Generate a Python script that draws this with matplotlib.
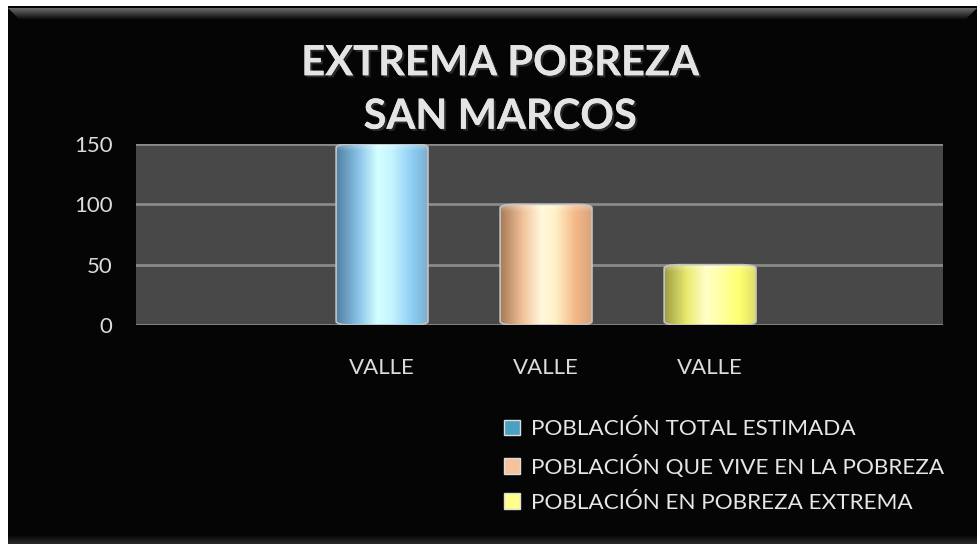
import numpy as np
import matplotlib.pyplot as plt
import matplotlib.patheffects as pe
from matplotlib.colors import LinearSegmentedColormap
from matplotlib.patches import FancyBboxPatch, Patch, Polygon

# data
categories = ["VALLE", "VALLE", "VALLE"]
series_names = ["POBLACIÓN TOTAL ESTIMADA",
                "POBLACIÓN QUE VIVE EN LA POBREZA",
                "POBLACIÓN EN POBREZA EXTREMA"]
series_values = [150, 100, 50]
yticks = [0, 50, 100, 150]

# cylinder-like shading per series
shades = [
    ["#4f7fa3", "#8cc4e8", "#d2ffff", "#c8f4ff", "#8fd0f5", "#7aaed0"],
    ["#a67a55", "#f2c39a", "#fff8dc", "#fff2c8", "#f5b888", "#d9a47c"],
    ["#9c9c45", "#eaea70", "#ffffc8", "#ffffa8", "#ffff70", "#dede68"],
]
legend_colors = ["#4aa0c0", "#f5c29c", "#ffff8a"]

plt.rcParams["font.family"] = ["Lato", "DejaVu Sans"]

W, H = 978, 544
fig = plt.figure(figsize=(W / 100, H / 100), dpi=100)
fig.patch.set_facecolor("white")

# background frame (pixel coordinates, y down)
bg = fig.add_axes([0, 0, 1, 1], zorder=-5)
bg.set_xlim(0, W)
bg.set_ylim(H, 0)
bg.axis("off")
bg.add_patch(Polygon([(8, 6), (977, 6), (977, 544), (8, 544)], closed=True,
                     facecolor="#050505", edgecolor="none", zorder=-1))
bevel = bg.imshow(np.linspace(0, 1, 32).reshape(-1, 1),
                  cmap=LinearSegmentedColormap.from_list("bev", ["#6a6a6a", "#050505"]),
                  extent=(8, 977, 20, 8), aspect="auto", zorder=1)
bevel.set_clip_path(Polygon([(8, 8), (977, 8), (965, 20), (20, 20)], closed=True,
                            transform=bg.transData))
bottom = bg.imshow(np.linspace(0, 1, 16).reshape(-1, 1),
                   cmap=LinearSegmentedColormap.from_list("bot", ["#050505", "#2a2a2a"]),
                   extent=(8, 977, 544, 535), aspect="auto", zorder=1)
bg.set_xlim(0, W)
bg.set_ylim(H, 0)

ax = fig.add_axes([136 / W, 1 - 325 / H, 807 / W, 181 / H])
ax.set_zorder(2)
ax.set_facecolor("#484848")
for s in ax.spines.values():
    s.set_visible(False)

x = np.arange(len(categories))
bars = ax.bar(x, series_values, width=0.56, color="none", edgecolor="none", zorder=3)

ax.set_yticks(yticks)
ax.set_xticks(x)
ax.set_xticklabels(categories)
ax.tick_params(axis="both", length=0, colors="#dcdcdc", labelsize=16)
ax.tick_params(axis="x", pad=24)
ax.tick_params(axis="y", pad=17)
ax.grid(axis="y", color="#8a8a8a", linewidth=2, zorder=1)
ax.set_axisbelow(True)

grad = np.linspace(0, 1, 256).reshape(1, -1)
for rect, cols in zip(bars, shades):
    x0, w, h = rect.get_x(), rect.get_width(), rect.get_height()
    cmap = LinearSegmentedColormap.from_list(
        "cyl", list(zip([0, 0.25, 0.45, 0.6, 0.82, 1.0], cols)))
    shape = FancyBboxPatch((x0, 0), w, h,
                           boxstyle="round,pad=0,rounding_size=0.1",
                           mutation_aspect=150 / 4.92 * 1.0,
                           facecolor="none", edgecolor="#c4c4c4",
                           linewidth=1.2, zorder=4)
    ax.add_patch(shape)
    im = ax.imshow(grad, cmap=cmap, extent=(x0, x0 + w, 0, h),
                   aspect="auto", zorder=3, interpolation="bicubic")
    im.set_clip_path(shape)
    # light top cap
    cap = ax.imshow(np.linspace(1, 0, 64).reshape(-1, 1),
                    cmap=LinearSegmentedColormap.from_list("cap", [(1, 1, 1, 0), (1, 1, 1, 0.35)]),
                    extent=(x0, x0 + w, h - 6, h), aspect="auto", zorder=3.5)
    cap.set_clip_path(shape)
ax.set_xlim(-1.5, 3.42)
ax.set_ylim(0, 150)

fig.text(500 / W, 1 - 90 / H, "EXTREMA POBREZA\nSAN MARCOS",
         ha="center", va="center", fontsize=30, fontweight="bold",
         family=["Lato", "DejaVu Sans"], color="#e4e4e4", linespacing=1.5,
         path_effects=[pe.withSimplePatchShadow(offset=(1.5, -1.5), shadow_rgbFace="#3a3a3a", alpha=0.7),
                       pe.Normal()])

handles = [Patch(facecolor=c, edgecolor="#dddddd", linewidth=1) for c in legend_colors]
leg = fig.legend(handles, series_names, loc="upper left",
                 bbox_to_anchor=(484 / W, 1 - 399 / H), frameon=False,
                 fontsize=16.2, labelcolor="#e6e6e6", handlelength=0.7,
                 handleheight=0.7, handletextpad=0.5, labelspacing=0.68)

fig.savefig("out.png", dpi=100, facecolor=fig.get_facecolor())
